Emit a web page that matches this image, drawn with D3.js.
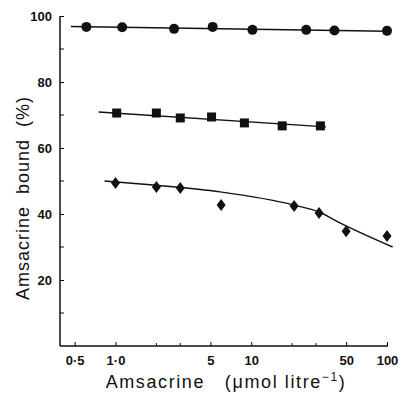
<!DOCTYPE html>
<html>
<head>
<meta charset="utf-8">
<script src="https://cdn.jsdelivr.net/npm/d3@7"></script>
<style>
  body { margin: 0; background: #fff; }
  svg { display: block; }
  text { font-family: "Liberation Sans", Arial, sans-serif; fill: #111; white-space: pre; }
</style>
</head>
<body>
<svg id="chart" width="401" height="393"></svg>
<script>
// circles (top series)
const circleX = [0.61, 1.12, 2.7, 5.2, 10.2, 25.4, 41, 100];
const circleY = [96.7, 96.6, 96.1, 96.7, 95.8, 95.8, 95.6, 95.5];
const circleLineX = [0.47, 100];
const circleLineY = [96.8, 95.4];

// squares
const squareX = [1.02, 2.0, 3.0, 5.1, 8.9, 16.9, 32.3];
const squareY = [70.6, 70.6, 69.1, 69.4, 67.6, 66.7, 66.7];
const squareLineX = [0.75, 35.5];
const squareLineY = [70.9, 66.4];

// diamonds
const diamondX = [1.0, 2.0, 3.0, 6.0, 20.7, 31.6, 50, 100];
const diamondY = [49.4, 48.2, 47.9, 42.7, 42.4, 40.3, 34.8, 33.3];
const diamondCurveX = [0.83, 2.0, 5.9, 20.7, 31.6, 45, 110];
const diamondCurveY = [50.0, 48.7, 46.7, 42.7, 40.6, 37.3, 30.0];

const xTicks = [0.5, 1, 5, 10, 50, 100];
const xTickLabels = ['0·5', '1·0', '5', '10', '50', '100'];
const xMinorTicks = [2, 3, 20, 30];
const yTicks = [20, 40, 60, 80, 100];
const yMinorTicks = [10, 30, 50, 70, 90];

const svg = d3.select('#chart');
const x = d3.scaleLog().domain([0.39, 100]).range([60, 387]);
const y = d3.scaleLinear().domain([0, 100]).range([346, 16]);

// axes
svg.append('line').attr('x1', 60).attr('x2', 60).attr('y1', y(100)).attr('y2', y(0))
   .attr('stroke', '#111').attr('stroke-width', 1.5);
svg.append('line').attr('x1', 60).attr('x2', x(100) + 1).attr('y1', y(0)).attr('y2', y(0))
   .attr('stroke', '#111').attr('stroke-width', 1.5);

const yAxis = d3.axisLeft(y).tickValues(yTicks).tickSize(-4).tickPadding(8);
const gy = svg.append('g').attr('transform', 'translate(60,0)').call(yAxis);
gy.select('.domain').remove();
gy.selectAll('.tick text').style('font-size', '13px').style('font-weight', 'bold');
svg.append('g').selectAll('line').data(yMinorTicks).enter().append('line')
   .attr('x1', 60).attr('x2', 64).attr('y1', d => y(d)).attr('y2', d => y(d))
   .attr('stroke', '#111');

const xAxis = d3.axisBottom(x).tickValues(xTicks).tickFormat((d, i) => xTickLabels[i])
                .tickSize(-4).tickPadding(10);
const gx = svg.append('g').attr('transform', `translate(0,${y(0)})`).call(xAxis);
gx.select('.domain').remove();
gx.selectAll('.tick text').style('font-size', '13px').style('font-weight', 'bold');
svg.append('g').selectAll('line').data(xMinorTicks).enter().append('line')
   .attr('x1', d => x(d)).attr('x2', d => x(d)).attr('y1', y(0)).attr('y2', y(0) - 3)
   .attr('stroke', '#111');

// axis titles
svg.append('text').attr('transform', 'translate(29,198) rotate(-90)')
   .attr('text-anchor', 'middle').style('font-size', '18px').style('letter-spacing', '1px')
   .text('Amsacrine  bound  (%)');
const xt = svg.append('text').attr('x', 226).attr('y', 388).attr('text-anchor', 'middle')
   .style('font-size', '18px').style('letter-spacing', '1.6px');
xt.append('tspan').text('Amsacrine   (μmol litre');
xt.append('tspan').attr('dy', -7).style('font-size', '12px').text('−1');
xt.append('tspan').attr('dy', 7).text(')');

// fitted lines
const line = d3.line().x(d => x(d[0])).y(d => y(d[1]));
const curve = d3.line().x(d => x(d[0])).y(d => y(d[1])).curve(d3.curveMonotoneX);
svg.append('path').attr('d', line(d3.zip(circleLineX, circleLineY)))
   .attr('fill', 'none').attr('stroke', '#111').attr('stroke-width', 1.4);
svg.append('path').attr('d', line(d3.zip(squareLineX, squareLineY)))
   .attr('fill', 'none').attr('stroke', '#111').attr('stroke-width', 1.4);
svg.append('path').attr('d', curve(d3.zip(diamondCurveX, diamondCurveY)))
   .attr('fill', 'none').attr('stroke', '#111').attr('stroke-width', 1.4);

// markers
svg.append('g').selectAll('circle').data(d3.zip(circleX, circleY)).enter().append('circle')
   .attr('cx', d => x(d[0])).attr('cy', d => y(d[1])).attr('r', 5).attr('fill', '#111');
svg.append('g').selectAll('rect').data(d3.zip(squareX, squareY)).enter().append('rect')
   .attr('x', d => x(d[0]) - 4.5).attr('y', d => y(d[1]) - 4.5)
   .attr('width', 9).attr('height', 9).attr('fill', '#111');
svg.append('g').selectAll('path').data(d3.zip(diamondX, diamondY)).enter().append('path')
   .attr('transform', d => `translate(${x(d[0])},${y(d[1])})`)
   .attr('d', 'M0,-6L4.5,0L0,6L-4.5,0Z').attr('fill', '#111');
</script>
</body>
</html>
